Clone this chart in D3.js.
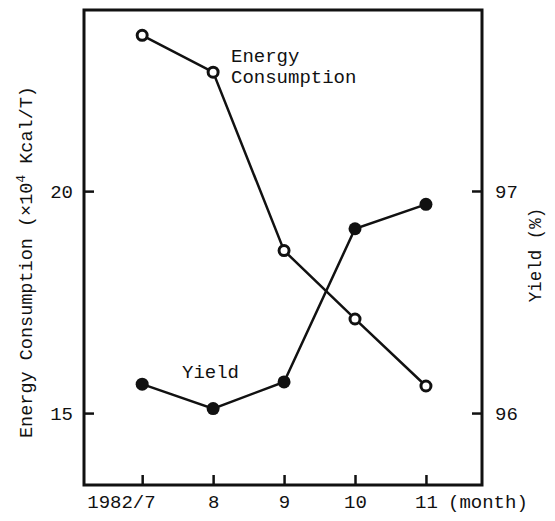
<!DOCTYPE html>
<html>
<head>
<meta charset="utf-8">
<script src="https://cdn.jsdelivr.net/npm/d3@7"></script>
<style>
  body { margin: 0; background: #fff; }
  text { font-family: "Courier New", "Liberation Mono", monospace; fill: #111; }
</style>
</head>
<body>
<svg id="chart"></svg>
<script>
// data
const months = [7, 8, 9, 10, 11]
const monthLabels = ['1982/7', '8', '9', '10', '11']
const energy = [23.51, 22.68, 18.66, 17.12, 15.61]   // x10^4 Kcal/T
const yieldPct = [96.13, 96.02, 96.14, 96.83, 96.94] // %
const energyTicks = [15, 20]
const yieldTicks = [96, 97]

const W = 555, H = 521
const margin = {top: 10, right: 73, bottom: 36, left: 84}
const width = W - margin.left - margin.right
const height = H - margin.top - margin.bottom

const svg = d3.select('#chart')
    .attr('width', W)
    .attr('height', H)
  .append('g')
    .attr('transform', 'translate(' + margin.left + ',' + margin.top + ')')

const x = d3.scaleLinear().domain([6.18, 11.79]).range([0, width])
const yE = d3.scaleLinear().domain([13.38, 24.08]).range([height, 0])
const yY = d3.scaleLinear().domain([95.676, 97.815]).range([height, 0])

// axes with inward ticks
const left = svg.append('g')
    .call(d3.axisLeft(yE).tickValues(energyTicks).tickSize(-10).tickPadding(11)
        .tickFormat(d3.format('d')))
const right = svg.append('g')
    .attr('transform', 'translate(' + width + ',0)')
    .call(d3.axisRight(yY).tickValues(yieldTicks).tickSize(-10).tickPadding(13)
        .tickFormat(d3.format('d')))
const bottom = svg.append('g')
    .attr('transform', 'translate(0,' + height + ')')
    .call(d3.axisBottom(x).tickValues(months).tickSize(-10)
        .tickFormat((d, i) => monthLabels[i]))

svg.selectAll('.domain').remove()
svg.selectAll('.tick line').attr('stroke', '#111').attr('stroke-width', 2.5)
svg.selectAll('.tick text').style('font-size', '19px')
bottom.selectAll('.tick text').attr('y', 23).attr('dy', 0)
bottom.selectAll('.tick text').filter((d, i) => i === 0)
    .attr('text-anchor', 'end').attr('dx', 13)

// frame
svg.append('rect')
    .attr('width', width).attr('height', height)
    .attr('fill', 'none').attr('stroke', '#111').attr('stroke-width', 3)

svg.append('text')
    .attr('x', width - 34).attr('y', height + 23)
    .style('font-size', '19px')
    .text('(month)')

// axis titles
const et = svg.append('text')
    .attr('transform', 'translate(' + (32 - margin.left) + ',' + (262 - margin.top) + ') rotate(-90)')
    .attr('text-anchor', 'middle')
    .style('font-size', '18.5px')
et.append('tspan').text('Energy Consumption (×10')
et.append('tspan').attr('dy', -7).style('font-size', '13px').text('4')
et.append('tspan').attr('dy', 7).text(' Kcal/T)')

svg.append('text')
    .attr('transform', 'translate(' + (width + 59) + ',' + (255 - margin.top) + ') rotate(-90)')
    .attr('text-anchor', 'middle')
    .style('font-size', '17.5px')
    .text('Yield (%)')

// lines
const lineE = d3.line().x((d, i) => x(months[i])).y(d => yE(d))
const lineY = d3.line().x((d, i) => x(months[i])).y(d => yY(d))

svg.append('path').datum(energy)
    .attr('fill', 'none').attr('stroke', '#111').attr('stroke-width', 2.5)
    .attr('d', lineE)
svg.append('path').datum(yieldPct)
    .attr('fill', 'none').attr('stroke', '#111').attr('stroke-width', 2.5)
    .attr('d', lineY)

svg.selectAll('.yp').data(yieldPct).enter().append('circle')
    .attr('cx', (d, i) => x(months[i])).attr('cy', d => yY(d))
    .attr('r', 6.5).attr('fill', '#111')
svg.selectAll('.ep').data(energy).enter().append('circle')
    .attr('cx', (d, i) => x(months[i])).attr('cy', d => yE(d))
    .attr('r', 5).attr('fill', '#fff').attr('stroke', '#111').attr('stroke-width', 3)

// series labels
svg.append('text').attr('x', 231 - margin.left).attr('y', 62 - margin.top)
    .style('font-size', '19px').text('Energy')
svg.append('text').attr('x', 231 - margin.left).attr('y', 83 - margin.top)
    .style('font-size', '19px').text('Consumption')
svg.append('text').attr('x', 182 - margin.left).attr('y', 378 - margin.top)
    .style('font-size', '19px').text('Yield')
</script>
</body>
</html>
